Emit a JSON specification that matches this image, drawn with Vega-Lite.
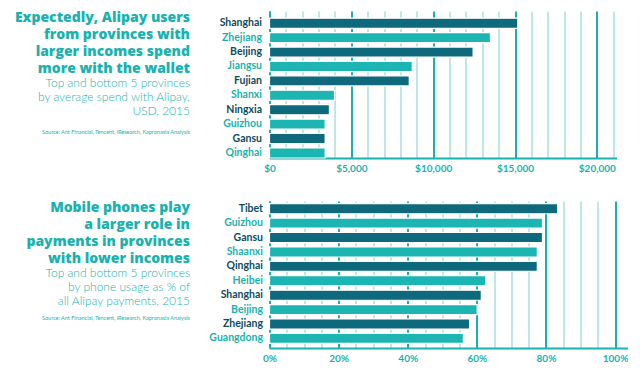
{
  "$schema": "https://vega.github.io/schema/vega-lite/v6.json",
  "padding": {"left": 0, "top": 10, "right": 0, "bottom": 0},
  "columns": 2,
  "bounds": "flush",
  "spacing": {"row": 43, "column": 79.5},
  "config": {"view": {"stroke": null}, "font": "Lato"},
  "concat": [
    {
      "width": 190, "height": 147,
      "layer": [
        {
          "data": {"values": [{"text": "Expectedly, Alipay users\nfrom provinces with\nlarger incomes spend\nmore with the wallet"}]},
          "mark": {"type": "text", "align": "right", "baseline": "alphabetic", "font": "Open Sans", "fontSize": 14, "fontWeight": 800, "lineHeight": 17, "lineBreak": "\n", "color": "#19b2ae"},
          "encoding": {
            "text": {"field": "text"},
            "x": {"datum": 1, "type": "quantitative", "scale": {"domain": [0, 1]}, "axis": null},
            "y": {"datum": 1, "type": "quantitative", "scale": {"domain": [0.345, 9.345], "reverse": true, "zero": false, "nice": false}, "axis": null}
          }
        },
        {
          "data": {"values": [{"text": "Top and bottom 5 provinces\nby average spend with Alipay,\nUSD, 2015"}]},
          "mark": {"type": "text", "align": "right", "baseline": "alphabetic", "font": "Lato", "fontSize": 12, "fontWeight": 300, "lineHeight": 13.8, "lineBreak": "\n", "color": "#19b2ae"},
          "encoding": {
            "text": {"field": "text"},
            "x": {"datum": 1, "type": "quantitative", "scale": {"domain": [0, 1]}, "axis": null},
            "y": {"datum": 5, "type": "quantitative", "scale": {"domain": [0.345, 9.345], "reverse": true, "zero": false, "nice": false}, "axis": null}
          }
        },
        {
          "data": {"values": [{"text": "Source: Ant Financial, Tencent, iResearch, Kapronasia Analysis"}]},
          "mark": {"type": "text", "align": "right", "baseline": "alphabetic", "font": "Lato", "fontSize": 5.5, "dy": -2, "color": "#19b2ae"},
          "encoding": {
            "text": {"field": "text"},
            "x": {"datum": 1, "type": "quantitative", "scale": {"domain": [0, 1]}, "axis": null},
            "y": {"datum": 8, "type": "quantitative", "scale": {"domain": [0.345, 9.345], "reverse": true, "zero": false, "nice": false}, "axis": null}
          }
        }
      ]
    },
    {
      "width": 347, "height": 147,
      "data": {"values": [
        {"province": "Shanghai", "spend": 15170},
        {"province": "Zhejiang", "spend": 13500},
        {"province": "Beijing", "spend": 12440},
        {"province": "Jiangsu", "spend": 8720},
        {"province": "Fujian", "spend": 8540},
        {"province": "Shanxi", "spend": 3970},
        {"province": "Ningxia", "spend": 3660},
        {"province": "Guizhou", "spend": 3400},
        {"province": "Gansu", "spend": 3400},
        {"province": "Qinghai", "spend": 3400}
      ]},
      "transform": [{"window": [{"op": "row_number", "as": "rank"}]}],
      "mark": {"type": "bar", "stroke": "#ffffff", "strokeWidth": 1.2},
      "encoding": {
        "y": {"field": "province", "type": "nominal", "sort": null,
          "scale": {"paddingInner": 0.3, "paddingOuter": 0.25, "align": 1},
          "axis": {"title": null, "ticks": false, "domain": true, "domainColor": "#19b2ae", "domainWidth": 2, "labelPadding": 8, "labelFont": "Lato", "labelFontSize": 10.5, "labelFontWeight": "bold",
            "labelColor": {"expr": "indexof(['Shanghai','Beijing','Fujian','Ningxia','Gansu'], datum.value) >= 0 ? '#0d4b5e' : '#19b2ae'"}}},
        "x": {"field": "spend", "type": "quantitative",
          "scale": {"domain": [0, 21200], "nice": false},
          "axis": {"title": null, "values": [0,1000,2000,3000,4000,5000,6000,7000,8000,9000,10000,11000,12000,13000,14000,15000,16000,17000,18000,19000,20000,21000],
            "labelExpr": "datum.value % 5000 === 0 ? '$' + format(datum.value, ',') : ''",
            "ticks": false, "labelFlush": false, "labelPadding": 5, "labelFont": "Lato", "labelFontSize": 10, "labelFontWeight": "bold", "labelColor": "#19b2ae",
            "domain": true, "domainColor": "#19b2ae", "domainWidth": 2,
            "grid": true,
            "gridColor": {"condition": {"test": "datum.value % 5000 === 0", "value": "#19b2ae"}, "value": "#a9e0de"},
            "gridWidth": {"condition": {"test": "datum.value % 5000 === 0", "value": 2}, "value": 1.5},
            "gridOpacity": 1}},
        "color": {"condition": {"test": "datum.rank % 2 === 1", "value": "#0e697c"}, "value": "#1cb5b1"}
      }
    },
    {
      "width": 190, "height": 147,
      "layer": [
        {
          "data": {"values": [{"text": "Mobile phones play\na larger role in\npayments in provinces\nwith lower incomes"}]},
          "mark": {"type": "text", "align": "right", "baseline": "alphabetic", "font": "Open Sans", "fontSize": 14, "fontWeight": 800, "lineHeight": 17, "lineBreak": "\n", "color": "#19b2ae"},
          "encoding": {
            "text": {"field": "text"},
            "x": {"datum": 1, "type": "quantitative", "scale": {"domain": [0, 1]}, "axis": null},
            "y": {"datum": 1, "type": "quantitative", "scale": {"domain": [0.345, 9.345], "reverse": true, "zero": false, "nice": false}, "axis": null}
          }
        },
        {
          "data": {"values": [{"text": "Top and bottom 5 provinces\nby phone usage as % of\nall Alipay payments, 2015"}]},
          "mark": {"type": "text", "align": "right", "baseline": "alphabetic", "font": "Lato", "fontSize": 12, "fontWeight": 300, "lineHeight": 13.8, "lineBreak": "\n", "color": "#19b2ae"},
          "encoding": {
            "text": {"field": "text"},
            "x": {"datum": 1, "type": "quantitative", "scale": {"domain": [0, 1]}, "axis": null},
            "y": {"datum": 5, "type": "quantitative", "scale": {"domain": [0.345, 9.345], "reverse": true, "zero": false, "nice": false}, "axis": null}
          }
        },
        {
          "data": {"values": [{"text": "Source: Ant Financial, Tencent, iResearch, Kapronasia Analysis"}]},
          "mark": {"type": "text", "align": "right", "baseline": "alphabetic", "font": "Lato", "fontSize": 5.5, "dy": -6, "color": "#19b2ae"},
          "encoding": {
            "text": {"field": "text"},
            "x": {"datum": 1, "type": "quantitative", "scale": {"domain": [0, 1]}, "axis": null},
            "y": {"datum": 8, "type": "quantitative", "scale": {"domain": [0.345, 9.345], "reverse": true, "zero": false, "nice": false}, "axis": null}
          }
        }
      ]
    },
    {
      "width": 358, "height": 147,
      "data": {"values": [
        {"province": "Tibet", "share": 83.4},
        {"province": "Guizhou", "share": 79.0},
        {"province": "Gansu", "share": 79.0},
        {"province": "Shaanxi", "share": 77.5},
        {"province": "Qinghai", "share": 77.5},
        {"province": "Heibei", "share": 62.6},
        {"province": "Shanghai", "share": 61.3},
        {"province": "Beijing", "share": 60.1},
        {"province": "Zhejiang", "share": 57.9},
        {"province": "Guangdong", "share": 56.1}
      ]},
      "transform": [{"window": [{"op": "row_number", "as": "rank"}]}],
      "mark": {"type": "bar", "stroke": "#ffffff", "strokeWidth": 1.2},
      "encoding": {
        "y": {"field": "province", "type": "nominal", "sort": null,
          "scale": {"paddingInner": 0.3, "paddingOuter": 0.25, "align": 0.37},
          "axis": {"title": null, "ticks": false, "domain": true, "domainColor": "#19b2ae", "domainWidth": 2, "labelPadding": 7, "labelFont": "Lato", "labelFontSize": 10.5, "labelFontWeight": "bold",
            "labelColor": {"expr": "indexof(['Tibet','Gansu','Qinghai','Shanghai','Zhejiang'], datum.value) >= 0 ? '#0d4b5e' : '#19b2ae'"}}},
        "x": {"field": "share", "type": "quantitative",
          "scale": {"domain": [0, 103.6], "nice": false},
          "axis": {"title": null, "values": [0,5,10,15,20,25,30,35,40,45,50,55,60,65,70,75,80,85,90,95,100],
            "labelExpr": "datum.value % 20 === 0 ? datum.value + '%' : ''",
            "ticks": false, "labelFlush": false, "labelPadding": 5, "labelFont": "Lato", "labelFontSize": 10, "labelFontWeight": "bold", "labelColor": "#19b2ae",
            "domain": true, "domainColor": "#19b2ae", "domainWidth": 2,
            "grid": true,
            "gridColor": {"condition": {"test": "datum.value % 20 === 0", "value": "#19b2ae"}, "value": "#a9e0de"},
            "gridWidth": {"condition": {"test": "datum.value % 20 === 0", "value": 2}, "value": 1.5},
            "gridOpacity": 1}},
        "color": {"condition": {"test": "datum.rank % 2 === 1", "value": "#0e697c"}, "value": "#1cb5b1"}
      }
    }
  ]
}
